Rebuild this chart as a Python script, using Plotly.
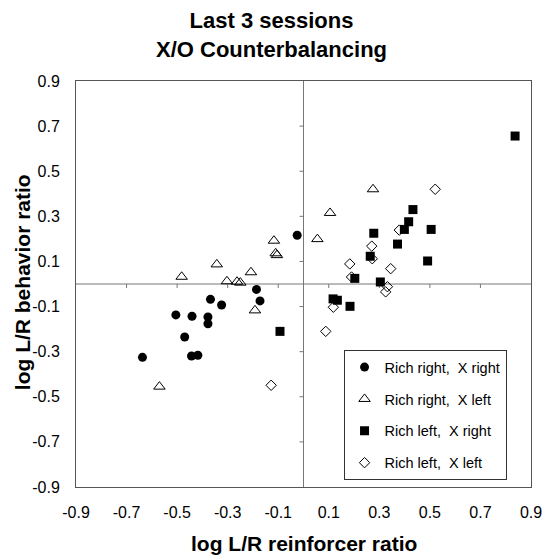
import plotly.graph_objects as go

# log reinforcer ratio (x) and log behavior ratio (y), one pair of lists per condition
rr_xr_x = [-0.025, -0.186, -0.172, -0.368, -0.324, -0.505, -0.441, -0.378, -0.378, -0.470, -0.443, -0.418, -0.637]
rr_xr_y = [0.216, -0.024, -0.075, -0.068, -0.093, -0.137, -0.143, -0.146, -0.176, -0.235, -0.319, -0.316, -0.325]

rr_xl_x = [-0.117, -0.110, -0.105, -0.343, -0.482, -0.303, -0.263, -0.250, -0.208, -0.192, -0.570, 0.275, 0.105, 0.055]
rr_xl_y = [0.192, 0.136, 0.128, 0.087, 0.032, 0.012, 0.010, 0.006, 0.052, -0.117, -0.455, 0.420, 0.315, 0.199]

rl_xr_x = [-0.093, 0.433, 0.416, 0.399, 0.505, 0.278, 0.372, 0.264, 0.491, 0.203, 0.304, 0.117, 0.134, 0.184, 0.837]
rl_xr_y = [-0.210, 0.330, 0.276, 0.242, 0.242, 0.225, 0.177, 0.123, 0.102, 0.025, 0.009, -0.066, -0.072, -0.099, 0.656]

rl_xl_x = [0.521, 0.379, 0.270, 0.272, 0.183, 0.190, 0.345, 0.332, 0.325, 0.118, 0.088, -0.128]
rl_xl_y = [0.420, 0.239, 0.168, 0.112, 0.089, 0.031, 0.068, -0.012, -0.035, -0.103, -0.210, -0.449]

series_names = ["Rich right,\u00a0 X right", "Rich right,\u00a0 X left",
                "Rich left,\u00a0 X right", "Rich left,\u00a0 X left"]
tick_vals = [-0.9, -0.7, -0.5, -0.3, -0.1, 0.1, 0.3, 0.5, 0.7, 0.9]
tick_text = ["-0.9", "-0.7", "-0.5", "-0.3", "-0.1", "0.1", "0.3", "0.5", "0.7", "0.9"]
axis_range = [-0.9, 0.9]

FONT = "Liberation Sans, Arial, sans-serif"
FRAME = "#555555"
CROSS = "#777777"
CLEAR = "rgba(0,0,0,0)"

fig = go.Figure()

styles = [
    dict(symbol="circle", size=9, color="black", line=dict(width=0)),
    dict(symbol="triangle-up-open", size=10, color="black", line=dict(width=1, color="black")),
    dict(symbol="square", size=9, color="black", line=dict(width=0)),
    dict(symbol="diamond-open", size=8, color="black", line=dict(width=1, color="black")),
]
data = [(rr_xr_x, rr_xr_y), (rr_xl_x, rr_xl_y), (rl_xr_x, rl_xr_y), (rl_xl_x, rl_xl_y)]

# axes crossing at the origin, with short tick marks sized in pixels
shapes = [
    dict(type="line", xref="x", yref="y", x0=axis_range[0], x1=axis_range[1], y0=0, y1=0,
         line=dict(color=CROSS, width=1), layer="below"),
    dict(type="line", xref="x", yref="y", x0=0, x1=0, y0=axis_range[0], y1=axis_range[1],
         line=dict(color=CROSS, width=1), layer="below"),
]
for t in tick_vals:
    if abs(t) >= 0.9:
        continue
    shapes.append(dict(type="line", xref="x", yref="y", ysizemode="pixel", yanchor=0,
                       x0=t, x1=t, y0=0, y1=-4, line=dict(color=CROSS, width=1), layer="below"))
    shapes.append(dict(type="line", xref="x", yref="y", xsizemode="pixel", xanchor=0,
                       y0=t, y1=t, x0=0, x1=-4, line=dict(color=CROSS, width=1), layer="below"))

for i, ((xs, ys), name, st) in enumerate(zip(data, series_names, styles)):
    fig.add_trace(go.Scatter(
        x=xs, y=ys, mode="markers", name=name, legendgroup=f"g{i}",
        marker=st, cliponaxis=False,
    ))

fig.update_layout(
    width=543, height=558,
    margin=dict(l=76, r=12, t=81, b=71, autoexpand=False),
    paper_bgcolor="white", plot_bgcolor="white",
    font=dict(family=FONT, color="black"),
    title=dict(
        text="<b>Last 3 sessions<br>X/O Counterbalancing</b>",
        x=0.5, xanchor="center", xref="container",
        y=0.95, yanchor="middle", yref="container",
        font=dict(size=22, family=FONT, color="black"),
    ),
    # outer frame carries the tick labels; its ticks are transparent spacers
    xaxis=dict(
        range=axis_range, tickvals=tick_vals, ticktext=tick_text,
        showgrid=False, zeroline=False, showline=True, mirror=True,
        linecolor=FRAME, linewidth=1,
        ticks="outside", ticklen=11, tickcolor=CLEAR,
        ticklabeloverflow="allow", automargin=False,
        tickfont=dict(size=16, family=FONT, color="black"),
    ),
    yaxis=dict(
        range=axis_range, tickvals=tick_vals, ticktext=tick_text,
        showgrid=False, zeroline=False, showline=True, mirror=True,
        linecolor=FRAME, linewidth=1,
        ticks="outside", ticklen=12, tickcolor=CLEAR,
        ticklabeloverflow="allow", automargin=False,
        tickfont=dict(size=16, family=FONT, color="black"),
    ),
    shapes=shapes,
    legend=dict(
        x=0.588, y=0.337, xanchor="left", yanchor="top",
        bgcolor="white", bordercolor="#333333", borderwidth=1,
        font=dict(size=14.5, family=FONT, color="black"),
        tracegroupgap=10, itemsizing="trace",
    ),
    showlegend=True,
    annotations=[
        dict(text="<b>log L/R reinforcer ratio</b>", xref="paper", yref="paper",
             x=0.5, y=-0.138, xanchor="center", yanchor="middle", showarrow=False,
             font=dict(size=21, family=FONT, color="black")),
        dict(text="<b>log L/R behavior ratio</b>", xref="paper", yref="paper",
             x=-0.116, y=0.505, xanchor="center", yanchor="middle", showarrow=False,
             textangle=-90, font=dict(size=21, family=FONT, color="black")),
    ],
)

fig.write_html("out.html")
